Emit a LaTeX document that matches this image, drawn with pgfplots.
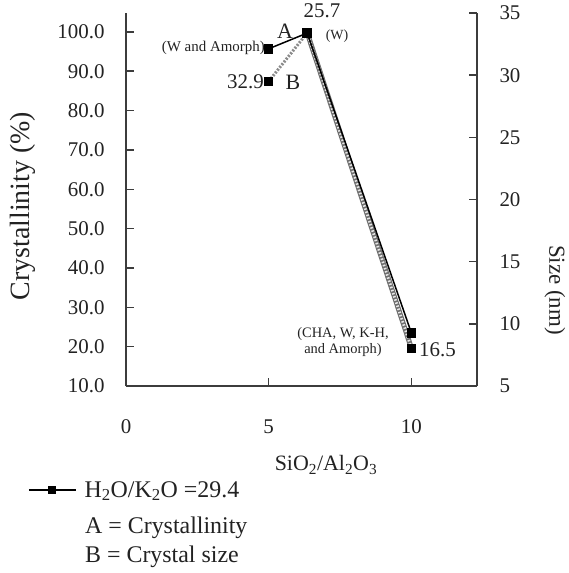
\documentclass[border=0pt]{standalone}
\usepackage{fontspec}
\setmainfont{Liberation Serif}
\usepackage{pgfplots}
\pgfplotsset{compat=1.18}
\definecolor{axc}{HTML}{3C3C3C}
\definecolor{txt}{HTML}{222222}
\definecolor{hatch}{HTML}{6E6E6E}
\definecolor{hatchin}{HTML}{E6E6E6}
\newcommand{\fs}[1]{\fontsize{#1}{#1}\selectfont}
\begin{document}
\begin{tikzpicture}
\path[use as bounding box] (-126bp,-187bp) rectangle (443bp,386bp);
% right axis: crystal size (B)
\begin{axis}[
  at={(0,0)}, anchor=south west,
  width=351bp, height=373bp, scale only axis,
  xmin=0, xmax=12.3, ymin=5, ymax=35,
  axis x line=none, axis y line*=right,
  axis line style={-, axc, line width=1.5bp},
  major tick style={axc, line width=1.5bp},
  tick align=inside, major tick length=8bp,
  ytick={5,10,...,35},
  /pgf/number format/assume math mode=true,
  ticklabel style={font=\fs{21}, text=txt},
  yticklabel style={xshift=19bp},
  clip=false,
]
\addplot[hatch!80, line width=3bp, dash pattern=on 2bp off 1.5bp] coordinates {(5,29.5) (6.35,33.4)};
\addplot[hatch, line width=5bp] coordinates {(6.35,33.4) (10,8.05)};
\addplot[hatchin, line width=2.8bp, dash pattern=on 1.5bp off 1.8bp] coordinates {(6.35,33.4) (10,8.05)};
\addplot[only marks, mark=square*, mark size=4bp, black] coordinates {(5,29.5) (6.35,33.4) (10,8.05)};
\end{axis}
% left axis: crystallinity (A)
\begin{axis}[
  at={(0,0)}, anchor=south west,
  width=351bp, height=373bp, scale only axis,
  xmin=0, xmax=12.3, ymin=10, ymax=104.8,
  axis x line*=bottom, axis y line*=left,
  axis line style={-, axc, line width=1.5bp},
  major tick style={axc, line width=1.5bp},
  tick align=inside, major tick length=8bp,
  xtick={0,5,10}, ytick={10,20,...,100},
  /pgf/number format/assume math mode=true,
  ticklabel style={font=\fs{21}, text=txt},
  yticklabel style={xshift=-18bp, /pgf/number format/fixed, /pgf/number format/fixed zerofill, /pgf/number format/precision=1},
  xticklabel style={yshift=-30bp},
  clip=false,
  legend style={draw=none, fill=none, inner sep=0pt, outer sep=0pt,
    at={(-0.279,-0.279)}, anchor=west, font=\fs{24}, text=txt,
    /tikz/every odd column/.append style={column sep=6bp}},
  legend image code/.code={\draw[mark repeat=2, mark phase=2, mark size=3.3bp] plot coordinates {(0bp,0bp) (23.5bp,0bp) (47bp,0bp)};},
]
\addplot[black, line width=1.5bp, mark=square*, mark size=4bp, mark options={solid, fill=black}] coordinates {(5,95.7) (6.35,99.7) (10,23.5)};
\addlegendentry{H\textsubscript{2}O/K\textsubscript{2}O =29.4}
\end{axis}
\begin{scope}[text=txt]
\node[font=\fs{22}] at (159bp,355bp) {A};
\node[font=\fs{21}] at (196bp,375bp) {25.7};
\node[font=\fs{14}] at (211bp,350bp) {(W)};
\node[font=\fs{15}, anchor=east, inner sep=0pt] at (139bp,338bp) {(W and Amorph)};
\node[font=\fs{21}, anchor=east, inner sep=0pt] at (138bp,304bp) {32.9};
\node[font=\fs{22}] at (167bp,304bp) {B};
\node[font=\fs{14.5}, align=center] at (217bp,44bp) {(CHA, W, K-H,\\[2bp]and Amorph)};
\node[font=\fs{21}, anchor=west, inner sep=0pt] at (293bp,36bp) {16.5};
\node[font=\fs{22}] at (200bp,-79bp) {SiO\textsubscript{2}/Al\textsubscript{2}O\textsubscript{3}};
\node[font=\fs{28}, rotate=90, inner sep=0pt] at (-103bp,180bp) {Crystallinity (\%)};
\node[font=\fs{23}, rotate=-90, inner sep=0pt] at (429bp,96bp) {Size (nm)};
\node[font=\fs{24}, anchor=west, inner sep=0pt] at (-41bp,-142bp) {A = Crystallinity};
\node[font=\fs{24}, anchor=west, inner sep=0pt] at (-41bp,-171bp) {B = Crystal size};
\end{scope}
\end{tikzpicture}
\end{document}
